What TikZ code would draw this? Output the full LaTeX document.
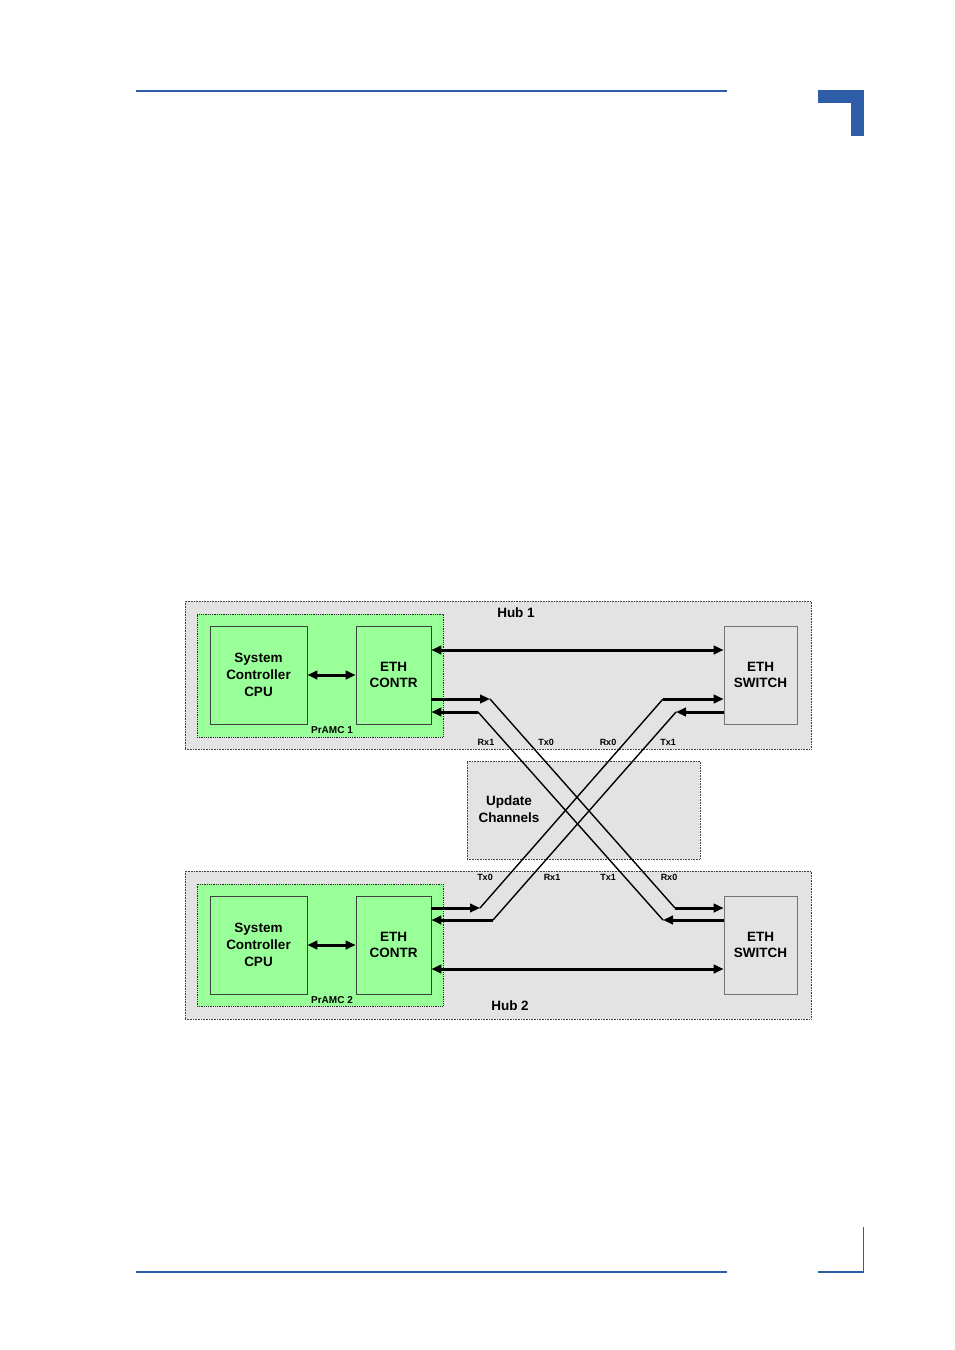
\documentclass[tikz,border=0pt]{standalone}
\usepackage{fontspec}
\setmainfont{Liberation Sans}
\usetikzlibrary{arrows.meta}
\definecolor{hdrblue}{HTML}{2F5CA8}
\definecolor{hubgray}{HTML}{E3E3E3}
\definecolor{pgreen}{HTML}{99FF99}
\begin{document}
\begin{tikzpicture}[x=1pt,y=-1pt,
  hub/.style={draw=black!75, densely dotted, fill=hubgray, line width=0.6pt},
  pram/.style={draw=black!85, densely dotted, fill=pgreen, line width=0.8pt},
  blk/.style={draw=black!75, line width=0.7pt, fill=pgreen, align=center, inner sep=0pt,
    font=\fontsize{13.5}{16.7}\selectfont\bfseries},
  swbox/.style={draw=black!55, line width=0.7pt, fill=hubgray, align=center, inner sep=0pt,
    font=\fontsize{13.5}{16.7}\selectfont\bfseries},
  lbl/.style={inner sep=0pt, font=\fontsize{13.5}{15}\selectfont\bfseries},
  small/.style={inner sep=0pt, font=\fontsize{9}{10}\selectfont\bfseries},
  tip/.style={-{Triangle[length=10pt,width=8.5pt]}},
  dtip/.style={{Triangle[length=10pt,width=8.5pt]}-{Triangle[length=10pt,width=8.5pt]}},
  bus/.style={line width=3pt},
  diag/.style={line width=1.4pt, line cap=round}
]
\useasboundingbox (0,0) rectangle (954,1350);

% page decorations
\draw[hdrblue, line width=1.3pt] (136,91) -- (727,91);
\fill[hdrblue] (818,90) rectangle (864,103);
\fill[hdrblue] (851,90) rectangle (864,136);
\draw[hdrblue, line width=1.3pt] (136,1272) -- (727,1272);
\draw[hdrblue, line width=1.6pt] (818,1272) -- (863.5,1272);
\draw[hdrblue, line width=0.9pt] (863,1227) -- (863,1273);

% containers
\node[hub, minimum width=626pt, minimum height=148pt, inner sep=0pt] (hub1) at (498,675) {};
\node[hub, minimum width=626pt, minimum height=148pt, inner sep=0pt] (hub2) at (498,945) {};
\node[hub, minimum width=233pt, minimum height=98pt, inner sep=0pt] (upd) at (583.5,810) {};
\node[pram, minimum width=246pt, minimum height=123pt, inner sep=0pt] (pram1) at (320,675.5) {};
\node[pram, minimum width=246pt, minimum height=122pt, inner sep=0pt] (pram2) at (320,945) {};

% blocks
\node[blk, minimum width=97pt, minimum height=98pt] (cpu1) at (258.5,675) {System\\Controller\\CPU};
\node[blk, minimum width=75pt, minimum height=98pt] (eth1) at (393.5,675) {ETH\\CONTR};
\node[swbox, minimum width=73pt, minimum height=98pt] (sw1) at (760.5,675) {ETH\\SWITCH};
\node[blk, minimum width=97pt, minimum height=98pt] (cpu2) at (258.5,945) {System\\Controller\\CPU};
\node[blk, minimum width=75pt, minimum height=98pt] (eth2) at (393.5,945) {ETH\\CONTR};
\node[swbox, minimum width=73pt, minimum height=98pt] (sw2) at (760.5,945) {ETH\\SWITCH};

% labels
\node[lbl] (h1) at (516,613) {Hub 1};
\node[lbl] (h2) at (510,1006) {Hub 2};
\node[small, font=\fontsize{10}{11}\selectfont\bfseries] (p1) at (332,730) {PrAMC 1};
\node[small, font=\fontsize{10}{11}\selectfont\bfseries] (p2) at (332,1000) {PrAMC 2};
\node[inner sep=0pt, align=center, font=\fontsize{13.5}{17}\selectfont\bfseries] (updl) at (509,809.5) {Update\\Channels};
\node[small] (l1) at (486,742) {Rx1};
\node[small] (l2) at (546,742) {Tx0};
\node[small] (l3) at (608,742) {Rx0};
\node[small] (l4) at (668,742) {Tx1};
\node[small] (l5) at (485,877) {Tx0};
\node[small] (l6) at (552,877) {Rx1};
\node[small] (l7) at (608,877) {Tx1};
\node[small] (l8) at (669,877) {Rx0};

% local connections
\draw[bus, dtip] (cpu1.east) -- (eth1.west);
\draw[bus, dtip] (cpu2.east) -- (eth2.west);
\draw[bus, dtip] (eth1.east |- 0,650) -- (sw1.west |- 0,650);
\draw[bus, dtip] (eth2.east |- 0,969) -- (sw2.west |- 0,969);

% corner points of update channels
\coordinate (a1) at (490,699);
\coordinate (a2) at (675,908);
\coordinate (b1) at (478,712);
\coordinate (b2) at (663,920);
\coordinate (c1) at (663,699);
\coordinate (c2) at (480,908);
\coordinate (d1) at (676,712);
\coordinate (d2) at (493,920);

% ETH CONTR 1 Tx -> SWITCH 2
\draw[bus, tip] (eth1.east |- a1) -- (a1);
\draw[diag] (a1) -- (a2);
\draw[bus, tip] (a2) -- (sw2.west |- a2);
% SWITCH 2 -> ETH CONTR 1 Rx
\draw[bus, tip] (sw2.west |- b2) -- (b2);
\draw[diag] (b2) -- (b1);
\draw[bus, tip] (b1) -- (eth1.east |- b1);
% ETH CONTR 2 Tx -> SWITCH 1
\draw[bus, tip] (eth2.east |- c2) -- (c2);
\draw[diag] (c2) -- (c1);
\draw[bus, tip] (c1) -- (sw1.west |- c1);
% SWITCH 1 -> ETH CONTR 2 Rx
\draw[bus, tip] (sw1.west |- d1) -- (d1);
\draw[diag] (d1) -- (d2);
\draw[bus, tip] (d2) -- (eth2.east |- d2);
\end{tikzpicture}
\end{document}
